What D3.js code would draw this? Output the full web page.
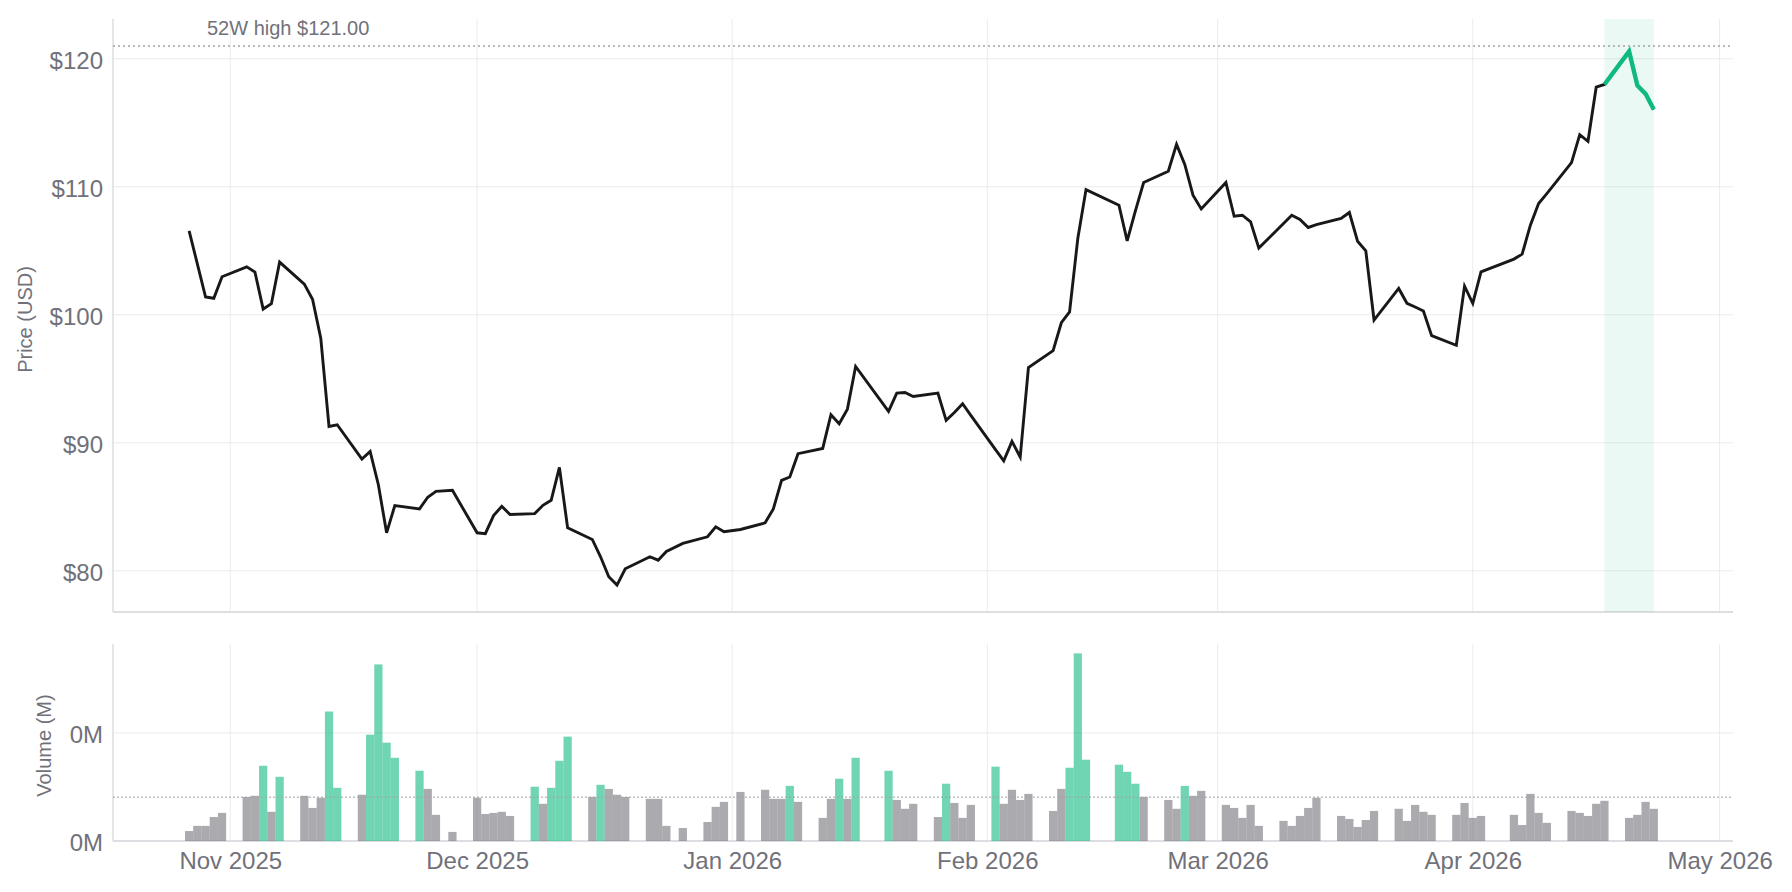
<!DOCTYPE html>
<html>
<head>
<meta charset="utf-8">
<script src="https://cdn.jsdelivr.net/npm/d3@7"></script>
<style>
  body { margin: 0; background: #fff; }
  svg { display: block; font-family: "Liberation Sans", Arial, sans-serif; }
</style>
</head>
<body>
<svg></svg>
<script>
// trading days shown on the chart
const dates = [
  "2025-10-27","2025-10-28","2025-10-29","2025-10-30","2025-10-31",
  "2025-11-03","2025-11-04","2025-11-05","2025-11-06","2025-11-07",
  "2025-11-10","2025-11-11","2025-11-12","2025-11-13","2025-11-14",
  "2025-11-17","2025-11-18","2025-11-19","2025-11-20","2025-11-21",
  "2025-11-24","2025-11-25","2025-11-26","2025-11-28",
  "2025-12-01","2025-12-02","2025-12-03","2025-12-04","2025-12-05",
  "2025-12-08","2025-12-09","2025-12-10","2025-12-11","2025-12-12",
  "2025-12-15","2025-12-16","2025-12-17","2025-12-18","2025-12-19",
  "2025-12-22","2025-12-23","2025-12-24","2025-12-26",
  "2025-12-29","2025-12-30","2025-12-31","2026-01-02",
  "2026-01-05","2026-01-06","2026-01-07","2026-01-08","2026-01-09",
  "2026-01-12","2026-01-13","2026-01-14","2026-01-15","2026-01-16",
  "2026-01-20","2026-01-21","2026-01-22","2026-01-23",
  "2026-01-26","2026-01-27","2026-01-28","2026-01-29","2026-01-30",
  "2026-02-02","2026-02-03","2026-02-04","2026-02-05","2026-02-06",
  "2026-02-09","2026-02-10","2026-02-11","2026-02-12","2026-02-13",
  "2026-02-17","2026-02-18","2026-02-19","2026-02-20",
  "2026-02-23","2026-02-24","2026-02-25","2026-02-26","2026-02-27",
  "2026-03-02","2026-03-03","2026-03-04","2026-03-05","2026-03-06",
  "2026-03-09","2026-03-10","2026-03-11","2026-03-12","2026-03-13",
  "2026-03-16","2026-03-17","2026-03-18","2026-03-19","2026-03-20",
  "2026-03-23","2026-03-24","2026-03-25","2026-03-26","2026-03-27",
  "2026-03-30","2026-03-31","2026-04-01","2026-04-02",
  "2026-04-06","2026-04-07","2026-04-08","2026-04-09","2026-04-10",
  "2026-04-13","2026-04-14","2026-04-15","2026-04-16","2026-04-17",
  "2026-04-20","2026-04-21","2026-04-22","2026-04-23"
];

// closing price (USD)
const closes = [
  106.55,103.98,101.39,101.29,102.97,
  103.75,103.34,100.45,100.87,104.12,
  102.40,101.21,98.17,91.28,91.41,
  88.73,89.33,86.73,82.97,85.10,
  84.84,85.75,86.21,86.29,
  82.97,82.90,84.32,85.04,84.40,
  84.47,85.12,85.51,88.08,83.36,
  82.45,81.10,79.54,78.89,80.16,
  81.10,80.83,81.51,82.14,
  82.66,83.44,83.05,83.23,
  83.75,84.84,87.07,87.33,89.15,
  89.56,92.19,91.49,92.63,95.96,
  92.45,93.88,93.93,93.62,
  93.88,91.75,92.37,93.05,92.14,
  89.47,88.60,90.11,88.89,95.88,
  97.20,99.38,100.22,105.96,109.78,
  108.56,105.78,108.11,110.33,
  111.21,113.31,111.75,109.34,108.27,
  110.33,107.70,107.78,107.26,105.21,
  107.13,107.78,107.44,106.82,107.04,
  107.52,107.99,105.75,105.00,99.59,
  102.06,100.90,100.61,100.30,98.37,
  97.62,102.24,100.90,103.36,
  104.35,104.74,107.00,108.69,109.47,
  111.89,114.07,113.55,117.78,117.99,
  120.58,117.91,117.26,116.04
];

// daily volume (M)
const volumes = [
  0.046,0.070,0.070,0.111,0.130,
  0.204,0.209,0.348,0.135,0.297,
  0.209,0.153,0.200,0.599,0.246,
  0.214,0.492,0.817,0.455,0.385,
  0.325,0.241,0.121,0.042,
  0.200,0.125,0.130,0.135,0.116,
  0.251,0.172,0.246,0.371,0.483,
  0.204,0.260,0.241,0.214,0.204,
  0.195,0.195,0.070,0.060,
  0.088,0.158,0.181,0.227,
  0.237,0.195,0.195,0.255,0.181,
  0.107,0.195,0.288,0.195,0.385,
  0.325,0.190,0.149,0.172,
  0.111,0.265,0.176,0.107,0.167,
  0.344,0.172,0.237,0.190,0.218,
  0.139,0.241,0.339,0.868,0.376,
  0.353,0.320,0.265,0.204,
  0.190,0.149,0.255,0.209,0.232,
  0.167,0.153,0.107,0.167,0.070,
  0.093,0.070,0.116,0.153,0.200,
  0.116,0.102,0.065,0.097,0.139,
  0.149,0.093,0.167,0.135,0.121,
  0.121,0.176,0.107,0.116,
  0.121,0.074,0.218,0.130,0.084,
  0.139,0.130,0.116,0.172,0.186,
  0.107,0.121,0.181,0.149
];

const high52w = 121.00;
const avgVolume = 0.202;
const recentDays = 5;            // last week, drawn in green
const priceTicks = [80, 90, 100, 110, 120];
const volTicks = [0, 0.5];
const volTickLabels = ["0M", "0M"];
const xDomain = ["2025-10-17T18:00:00Z", "2026-05-02T15:00:00Z"];

const width = 1792, height = 892;
const left = 113, right = 1733;
const priceTop = 19, priceBottom = 612;
const volTop = 644, volBottom = 841;

const green = '#10b981', zinc = '#71717a', gridColor = '#ebebed', axisColor = '#dedee2';

const data = dates.map((d, i) => ({ date: new Date(d), close: closes[i], vol: volumes[i] }));

const svg = d3.select('svg').attr('width', width).attr('height', height);

// scales
const x = d3.scaleUtc()
    .domain(xDomain.map(d => new Date(d)))
    .range([left, right]);

const lo = d3.min(closes), hi = Math.max(d3.max(closes), high52w);
const pad = (hi - lo) * 0.05;
const y = d3.scaleLinear().domain([lo - pad, hi + pad]).range([priceBottom, priceTop]);

const yVol = d3.scaleLinear().domain([0, d3.max(volumes) * 1.05]).range([volBottom, volTop]);

const monthTicks = x.ticks(d3.utcMonth.every(1));

// gridlines, both panels
function grid(top, bottom, yScale, yTicks) {
  const g = svg.append('g');
  g.selectAll('line.v').data(monthTicks).enter().append('line')
    .attr('x1', d => x(d)).attr('x2', d => x(d))
    .attr('y1', top).attr('y2', bottom)
    .attr('stroke', gridColor).attr('stroke-width', 1);
  g.selectAll('line.h').data(yTicks).enter().append('line')
    .attr('x1', left).attr('x2', right)
    .attr('y1', d => yScale(d)).attr('y2', d => yScale(d))
    .attr('stroke', gridColor).attr('stroke-width', 1);
  // left + bottom frame
  g.append('line').attr('x1', left).attr('x2', left).attr('y1', top).attr('y2', bottom)
    .attr('stroke', axisColor).attr('stroke-width', 1.5);
  g.append('line').attr('x1', left).attr('x2', right).attr('y1', bottom).attr('y2', bottom)
    .attr('stroke', axisColor).attr('stroke-width', 2);
}
grid(priceTop, priceBottom, y, priceTicks);
grid(volTop, volBottom, yVol, volTicks.slice(1));

// highlight band for the last week
const recent = data.slice(-recentDays);
svg.append('rect')
  .attr('x', x(recent[0].date))
  .attr('y', priceTop)
  .attr('width', x(recent[recent.length - 1].date) - x(recent[0].date))
  .attr('height', priceBottom - priceTop)
  .attr('fill', green).attr('fill-opacity', 0.085);

// 52 week high
svg.append('line')
  .attr('x1', left).attr('x2', right)
  .attr('y1', y(high52w)).attr('y2', y(high52w))
  .attr('stroke', '#a1a1aa').attr('stroke-width', 1.5)
  .attr('stroke-dasharray', '2,3');
svg.append('text')
  .attr('x', 207).attr('y', 35)
  .attr('font-size', 20).attr('fill', zinc)
  .text('52W high $' + high52w.toFixed(2));

// price line
const line = d3.line().x(d => x(d.date)).y(d => y(d.close));
svg.append('path').datum(data)
  .attr('d', line)
  .attr('fill', 'none').attr('stroke', '#18181b').attr('stroke-width', 2.9);
svg.append('path').datum(recent)
  .attr('d', line)
  .attr('fill', 'none').attr('stroke', green).attr('stroke-width', 4.4);

// volume bars, green when volume is well above average
const day = x(new Date(Date.UTC(2026, 0, 2))) - x(new Date(Date.UTC(2026, 0, 1)));
svg.append('g').selectAll('rect')
  .data(data)
  .enter()
  .append('rect')
  .attr('x', d => x(d.date) - day / 2)
  .attr('y', d => yVol(d.vol))
  .attr('width', day)
  .attr('height', d => volBottom - yVol(d.vol))
  .attr('fill', d => d.vol > avgVolume * 1.2 ? green : zinc)
  .attr('fill-opacity', 0.6);

// average volume
svg.append('line')
  .attr('x1', left).attr('x2', right)
  .attr('y1', yVol(avgVolume)).attr('y2', yVol(avgVolume))
  .attr('stroke', '#a1a1aa').attr('stroke-opacity', 0.7).attr('stroke-width', 1.5)
  .attr('stroke-dasharray', '2,2');

// axes (labels only)
function styleAxis(g) {
  g.select('.domain').remove();
  g.selectAll('text').attr('fill', zinc).attr('font-size', 24)
    .attr('font-family', '"Liberation Sans", Arial, sans-serif');
}

svg.append('g')
  .attr('transform', `translate(${left},0)`)
  .call(d3.axisLeft(y).tickValues(priceTicks).tickFormat(d => '$' + d).tickSize(0).tickPadding(10))
  .call(styleAxis)
  .selectAll('text').attr('dy', '0.4em');

svg.append('g')
  .attr('transform', `translate(${left},0)`)
  .call(d3.axisLeft(yVol).tickValues(volTicks).tickFormat((d, i) => volTickLabels[i]).tickSize(0).tickPadding(10))
  .call(styleAxis)
  .selectAll('text').attr('dy', '0.4em');

svg.append('g')
  .attr('transform', `translate(0,${volBottom})`)
  .call(d3.axisBottom(x).tickValues(monthTicks).tickFormat(d3.utcFormat('%b %Y')).tickSize(0).tickPadding(11))
  .call(styleAxis);

// axis titles
svg.append('text')
  .attr('transform', `translate(32,${(priceTop + priceBottom) / 2 + 4}) rotate(-90)`)
  .attr('text-anchor', 'middle').attr('font-size', 20).attr('fill', zinc)
  .text('Price (USD)');
svg.append('text')
  .attr('transform', `translate(51,${(volTop + volBottom) / 2 + 3}) rotate(-90)`)
  .attr('text-anchor', 'middle').attr('font-size', 20).attr('fill', zinc)
  .text('Volume (M)');
</script>
</body>
</html>
